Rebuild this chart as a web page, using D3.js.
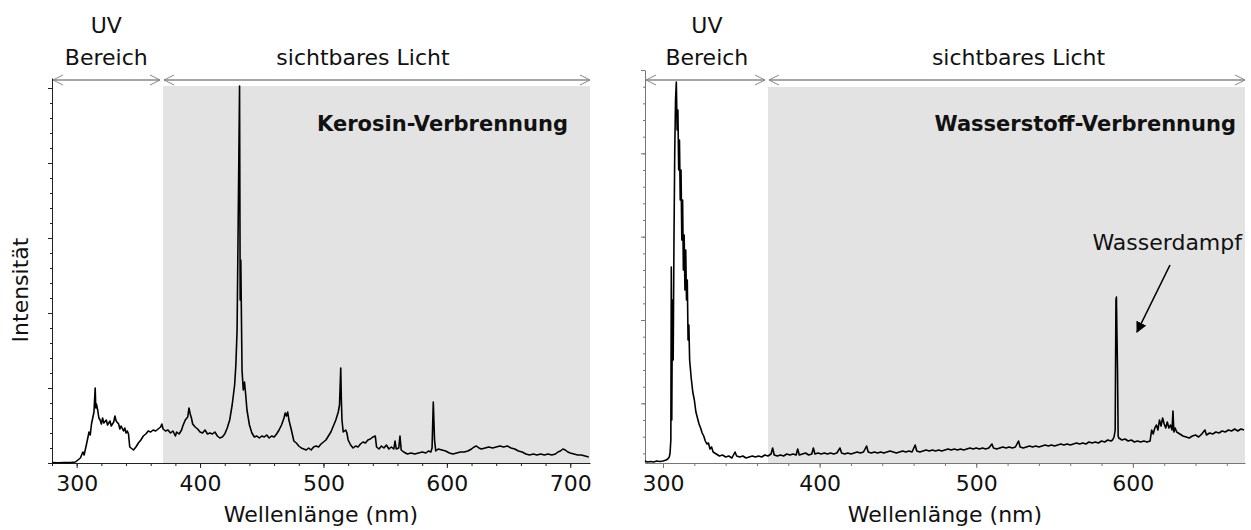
<!DOCTYPE html>
<html>
<head>
<meta charset="utf-8">
<script src="https://cdn.jsdelivr.net/npm/d3@7"></script>
<style>
  body { margin: 0; background: #fff; }
  svg text { font-family: "DejaVu Sans", sans-serif; fill: #111; }
</style>
</head>
<body>
<svg id="chart" width="1251" height="530"></svg>
<script>
// Kerosin-Spektrum: [Wellenlänge nm, Intensität counts]
const kerosinSpektrum = [
  [280,20],[285,12],[290,20],[295,16],[299,40],[301,120],[303,200],[305,440],[306,320],[308,760],
  [310,1240],[311,1120],[312,1560],[313,1800],[314,2040],[315,3000],[315.5,2200],[316,2360],[317,2120],[318,1800],
  [319,1720],[320,1560],[321,1800],[322,1600],[324,1720],[325,1520],[327,1680],[328,1480],[330,1640],[331,1880],
  [332,1680],[334,1560],[335,1360],[336,1480],[338,1280],[339,1400],[340,1200],[341,1280],[342,1160],[343,640],
  [344,600],[346,520],[348,640],[350,800],[352,920],[354,1080],[356,1160],[358,1280],[360,1240],[362,1320],
  [364,1280],[366,1360],[368,1440],[369,1560],[370,1360],[372,1280],[374,1320],[376,1200],[378,1280],[380,1080],
  [381,1240],[383,1160],[385,1320],[386,1480],[388,1720],[390,1840],[391,2200],[392,1960],[393,1800],[394,1560],
  [396,1440],[398,1360],[400,1240],[402,1200],[404,1320],[406,1160],[408,1200],[410,1160],[412,1240],[414,1080],
  [416,1000],[418,1040],[420,1160],[422,1400],[424,1720],[426,2320],[428,3120],[429,3920],[430,5320],[431,10200],
  [432,15080],[432.5,6520],[433,8120],[434,3720],[435,2920],[436,3240],[437,2720],[438,2120],[440,1520],[442,1200],
  [444,1040],[446,1080],[448,1000],[450,1080],[452,1040],[454,1120],[456,1000],[458,1080],[460,1040],[462,1160],
  [464,1320],[466,1520],[468,1800],[469,2000],[470,1880],[471,2040],[472,1720],[474,1320],[476,880],[478,800],
  [480,680],[482,600],[484,560],[486,520],[488,600],[490,520],[492,640],[494,680],[496,640],[498,760],
  [500,840],[502,920],[504,1080],[506,1240],[508,1480],[510,1720],[512,2040],[513,2320],[514,3800],[514.5,2520],
  [515,1720],[516,1240],[518,1320],[519,1200],[520,920],[522,720],[524,600],[526,680],[528,640],[530,760],
  [532,840],[534,800],[536,920],[538,960],[540,1040],[542,1080],[543,640],[545,560],[547,680],[549,600],
  [551,720],[553,560],[555,640],[557,560],[558,880],[559,560],[561,600],[562,1080],[563,520],[565,440],
  [568,360],[571,400],[574,360],[577,400],[580,440],[583,400],[585,480],[587,440],[588,600],[589,2440],
  [590,920],[591,480],[593,560],[596,520],[599,480],[602,400],[605,360],[608,400],[611,440],[614,440],
  [617,480],[620,560],[622,640],[624,680],[626,600],[628,560],[631,600],[634,640],[637,600],[640,640],
  [643,680],[646,640],[649,680],[652,600],[655,560],[658,480],[661,440],[664,360],[667,320],[670,360],
  [673,320],[676,360],[679,320],[682,360],[685,320],[688,360],[690,440],[692,480],[694,560],[696,520],
  [698,440],[700,400],[703,360],[706,320],[709,320],[712,280],[715,240]
];

// Wasserstoff-Spektrum: [Wellenlänge nm, Intensität counts]
const wasserstoffSpektrum = [
  [288.5,24],[290,12],[292,18],[294,12],[296,24],[298,18],[300,24],[301,30],[302,36],[303,48],
  [304,72],[304.5,120],[305,276],[305.3,2352],[305.6,516],[306,1956],[306.5,1236],[307,2676],[307.5,3756],[308,4356],
  [308.5,4572],[309,3996],[309.5,4236],[310,3516],[310.5,3876],[311,3156],[311.5,3516],[312,2676],[312.5,3156],[313,2316],
  [313.5,2736],[314,2076],[314.5,2556],[315,1956],[315.5,2196],[316,1476],[316.5,1656],[317,1236],[318,1020],[319,852],
  [320,756],[321,612],[322,540],[323,468],[324,420],[325,360],[326,324],[327,264],[328,228],[329,240],
  [330,168],[331,192],[332,132],[334,108],[336,84],[338,96],[340,72],[342,84],[344,60],[346,132],
  [347,84],[349,72],[351,84],[353,60],[355,72],[357,84],[359,72],[361,84],[363,72],[365,96],
  [367,84],[369,108],[370,180],[371,96],[373,84],[375,96],[377,84],[379,108],[381,96],[383,108],
  [385,96],[386,168],[387,96],[389,108],[391,120],[393,96],[395,108],[396,180],[397,108],[399,120],
  [401,108],[403,120],[405,108],[407,120],[409,108],[411,120],[413,180],[414,120],[416,108],[418,120],
  [420,108],[422,120],[424,132],[426,120],[428,132],[430,204],[431,132],[433,120],[435,132],[437,120],
  [439,132],[441,120],[443,132],[445,144],[447,132],[449,120],[451,132],[453,144],[455,132],[457,144],
  [459,132],[461,216],[462,144],[464,132],[466,144],[468,156],[470,144],[472,156],[474,144],[476,156],
  [478,144],[480,156],[482,168],[484,156],[486,168],[488,156],[490,168],[492,156],[494,168],[496,180],
  [498,168],[500,180],[502,168],[504,180],[506,168],[508,180],[510,228],[511,180],[513,168],[515,180],
  [517,192],[519,180],[521,192],[523,180],[525,192],[527,264],[528,192],[530,180],[532,192],[534,204],
  [536,192],[538,204],[540,192],[542,204],[544,216],[546,204],[548,216],[550,204],[552,216],[554,228],
  [556,216],[558,228],[560,216],[562,228],[564,240],[566,228],[568,240],[570,228],[572,252],[574,240],
  [576,252],[578,240],[580,264],[582,252],[584,276],[586,264],[587,276],[588,312],[588.7,396],[589.2,1956],
  [589.5,1992],[589.8,1596],[590.2,1116],[590.6,324],[591,300],[593,276],[595,288],[597,264],[599,276],[601,252],
  [603,264],[605,252],[607,264],[609,252],[611,264],[612,396],[613,348],[614,420],[615,456],[616,396],
  [617,516],[618,444],[619,540],[620,468],[621,420],[622,492],[623,420],[624,456],[625,396],[625.6,624],
  [626.2,372],[627,420],[628,372],[630,348],[632,324],[634,312],[636,300],[638,324],[640,336],[642,312],
  [644,348],[646,396],[647,336],[649,360],[651,348],[653,372],[655,360],[657,384],[659,372],[661,396],
  [663,384],[665,408],[667,384],[669,408],[671,396]
];

const xMajorKerosin = [300, 400, 500, 600, 700];
const xMajorWasserstoff = [300, 400, 500, 600];
const yMajorKerosin = [0, 3000, 6000, 9000, 12000, 15000];
const yMajorWasserstoff = [716, 1716, 2716, 3716, 4716];
const uvGrenze = [370, 367];   // Beginn des sichtbaren Lichts je Panel

const svg = d3.select('#chart');
const FONT = 22;

const panels = [
  {
    data: kerosinSpektrum, xDomain: [280, 716], xRange: [52, 590],
    yDomain: [0, 15400], yRange: [463, 78], shadeTop: 86,
    xMajor: xMajorKerosin, xStep: 20, yMajor: yMajorKerosin, yStep: 600,
    axisColor: '#222', uv: uvGrenze[0], uvLabel: 324, visLabel: 532,
    title: 'Kerosin-Verbrennung', titleX: 568
  },
  {
    data: wasserstoffSpektrum, xDomain: [288.5, 671.6], xRange: [645, 1245],
    yDomain: [0, 4716], yRange: [463, 70], shadeTop: 87,
    xMajor: xMajorWasserstoff, xStep: 20, yMajor: yMajorWasserstoff, yStep: 200,
    axisColor: '#777', uv: uvGrenze[1], uvLabel: 328, visLabel: 527,
    title: 'Wasserstoff-Verbrennung', titleX: 1236
  }
];

panels.forEach(drawPanel);
drawLabels();

function drawPanel(p) {
  const x = d3.scaleLinear().domain(p.xDomain).range(p.xRange);
  const y = d3.scaleLinear().domain(p.yDomain).range(p.yRange);
  const g = svg.append('g');
  const yBase = p.yRange[0];

  // sichtbarer Bereich grau hinterlegt
  g.append('rect')
    .attr('x', x(p.uv))
    .attr('y', p.shadeTop)
    .attr('width', p.xRange[1] - x(p.uv))
    .attr('height', yBase - p.shadeTop)
    .attr('fill', '#e3e3e3');

  // x-Achse: Nebenstriche alle 20 nm, Hauptstriche alle 100 nm
  const xMinor = d3.range(Math.ceil(p.xDomain[0] / p.xStep) * p.xStep, p.xDomain[1], p.xStep);
  g.append('g')
    .attr('transform', `translate(0,${yBase})`)
    .call(d3.axisBottom(x).tickValues(xMinor).tickSize(3).tickSizeOuter(0).tickFormat(''))
    .call(s => s.selectAll('path,line').attr('stroke', p.axisColor));
  g.append('g')
    .attr('transform', `translate(0,${yBase})`)
    .call(d3.axisBottom(x).tickValues(p.xMajor).tickSize(5).tickSizeOuter(0).tickPadding(7))
    .call(s => s.select('.domain').remove())
    .call(s => s.selectAll('line').attr('stroke', p.axisColor))
    .call(s => s.selectAll('text').attr('font-size', FONT).attr('font-family', null).attr('fill', '#111'));

  // y-Achse ohne Beschriftung
  const yMinor = d3.range(p.yMajor[0] % p.yStep, p.yDomain[1] + 1, p.yStep);
  g.append('g')
    .attr('transform', `translate(${p.xRange[0]},0)`)
    .call(d3.axisLeft(y).tickValues(yMinor).tickSize(2).tickSizeOuter(0).tickFormat(''))
    .call(s => s.selectAll('path,line').attr('stroke', p.axisColor));
  g.append('g')
    .attr('transform', `translate(${p.xRange[0]},0)`)
    .call(d3.axisLeft(y).tickValues(p.yMajor).tickSize(4).tickSizeOuter(0).tickFormat(''))
    .call(s => s.select('.domain').remove())
    .call(s => s.selectAll('line').attr('stroke', p.axisColor));

  // Spektrum
  const line = d3.line().x(d => x(d[0])).y(d => y(d[1]));
  g.append('path')
    .datum(p.data)
    .attr('d', line)
    .attr('fill', 'none')
    .attr('stroke', '#000')
    .attr('stroke-width', 1.6)
    .attr('stroke-linejoin', 'round');

  // Bereichspfeile oben
  const arrowY = 80;
  drawDoubleArrow(g, p.xRange[0] + 1, x(p.uv) - 3, arrowY);
  drawDoubleArrow(g, x(p.uv) + 1, p.xRange[1], arrowY);

  g.append('text').attr('x', x(p.uvLabel)).attr('y', 33)
    .attr('text-anchor', 'middle').attr('font-size', FONT).text('UV');
  g.append('text').attr('x', x(p.uvLabel)).attr('y', 65)
    .attr('text-anchor', 'middle').attr('font-size', FONT).text('Bereich');
  g.append('text').attr('x', x(p.visLabel)).attr('y', 65)
    .attr('text-anchor', 'middle').attr('font-size', FONT).text('sichtbares Licht');

  g.append('text').attr('x', p.titleX).attr('y', 131)
    .attr('text-anchor', 'end').attr('font-size', 21).attr('font-weight', 700)
    .text(p.title);

  g.append('text')
    .attr('x', (p.xRange[0] + p.xRange[1]) / 2).attr('y', 522)
    .attr('text-anchor', 'middle').attr('font-size', FONT)
    .text('Wellenlänge (nm)');
}

function drawDoubleArrow(g, x1, x2, yy) {
  const c = '#888';
  g.append('line').attr('x1', x1).attr('x2', x2).attr('y1', yy).attr('y2', yy)
    .attr('stroke', c).attr('stroke-width', 1.5);
  g.append('path')
    .attr('d', `M${x1 + 10},${yy - 5}L${x1},${yy}L${x1 + 10},${yy + 5}`
      + `M${x2 - 10},${yy - 5}L${x2},${yy}L${x2 - 10},${yy + 5}`)
    .attr('fill', 'none').attr('stroke', c).attr('stroke-width', 1);
}

function drawLabels() {
  svg.append('text')
    .attr('transform', 'translate(28,290) rotate(-90)')
    .attr('text-anchor', 'middle').attr('font-size', FONT)
    .text('Intensität');

  // Wasserdampf-Hinweis rechts
  svg.append('text').attr('x', 1242).attr('y', 250)
    .attr('text-anchor', 'end').attr('font-size', FONT)
    .text('Wasserdampf');

  svg.append('defs').append('marker')
    .attr('id', 'pfeil').attr('viewBox', '0 0 10 10')
    .attr('refX', 9).attr('refY', 5)
    .attr('markerWidth', 11).attr('markerHeight', 11)
    .attr('markerUnits', 'userSpaceOnUse')
    .attr('orient', 'auto')
    .append('path').attr('d', 'M0,0L10,5L0,10Z').attr('fill', '#000');

  svg.append('line')
    .attr('x1', 1170).attr('y1', 265).attr('x2', 1137).attr('y2', 332)
    .attr('stroke', '#000').attr('stroke-width', 1.6)
    .attr('marker-end', 'url(#pfeil)');
}
</script>
</body>
</html>
